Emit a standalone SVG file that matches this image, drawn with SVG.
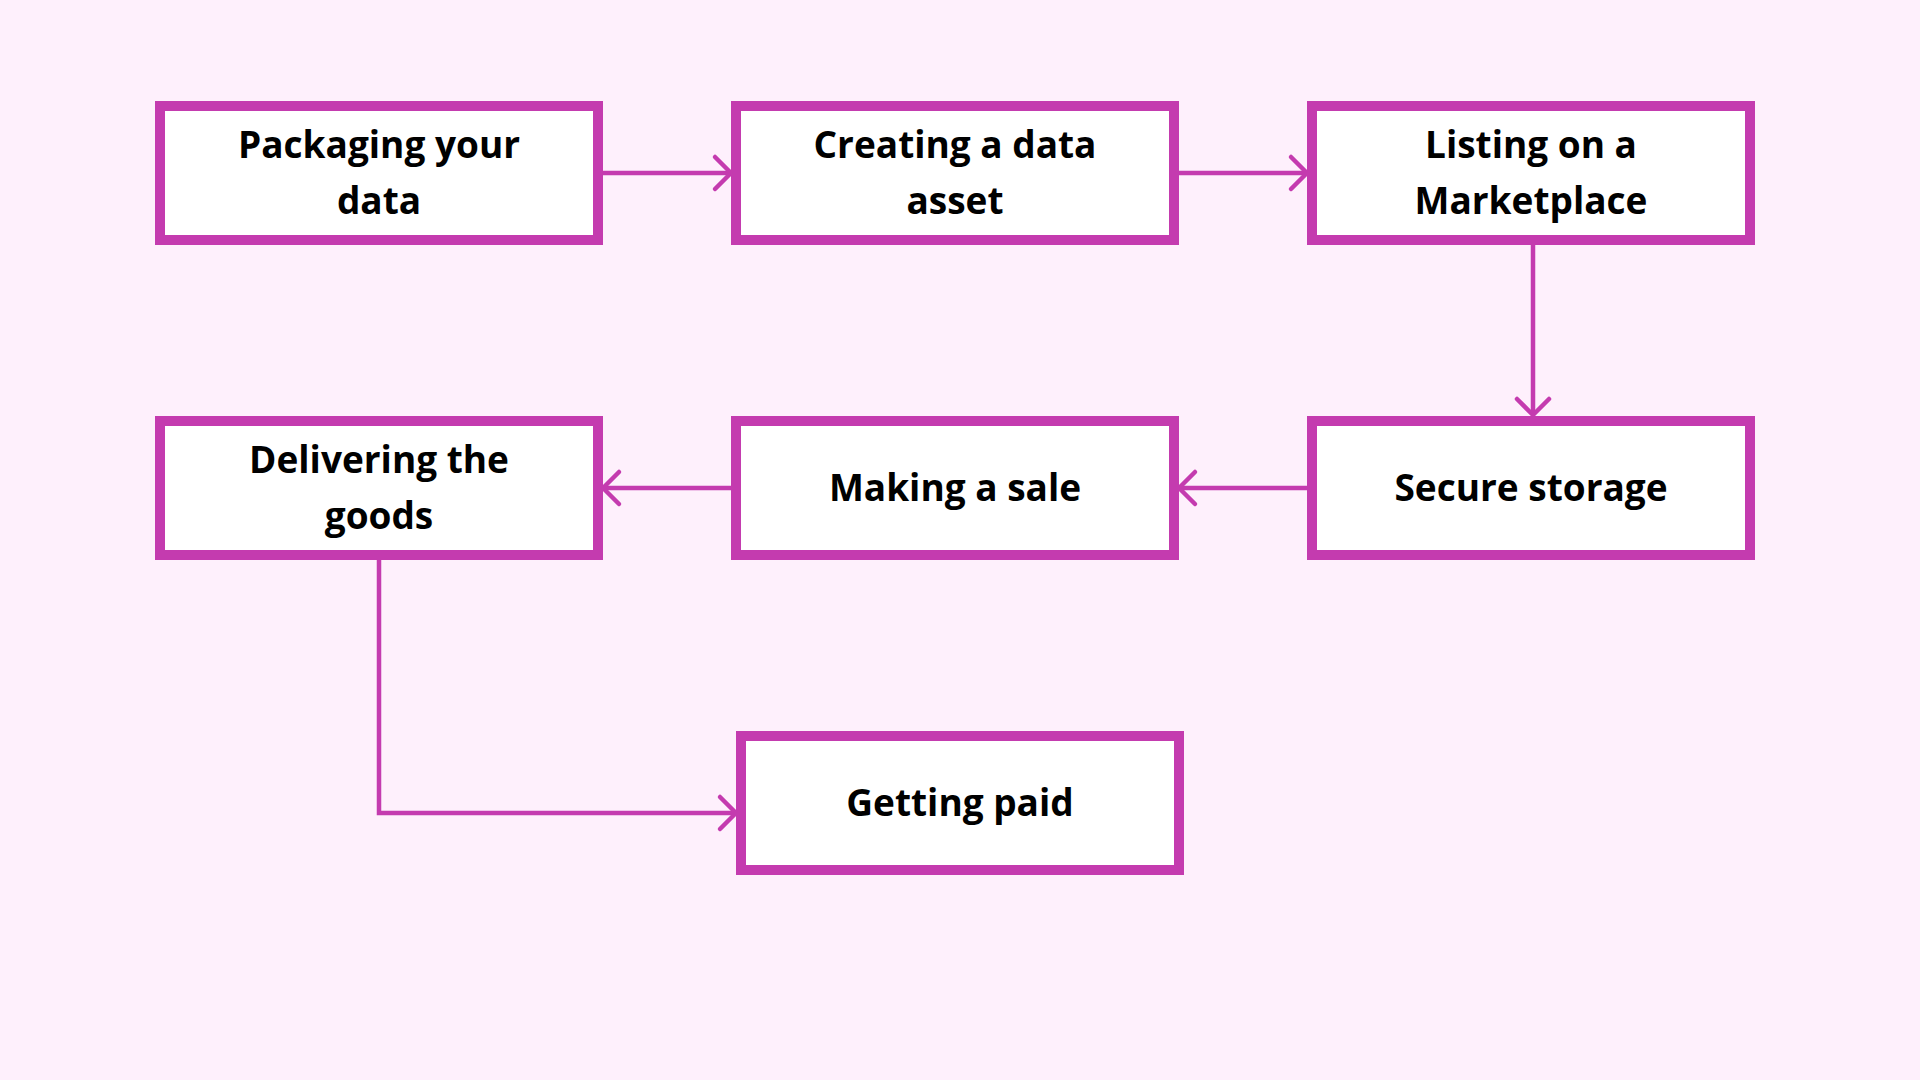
<svg xmlns="http://www.w3.org/2000/svg" width="1920" height="1080" viewBox="0 0 1920 1080">
<defs>
<style>
.box{fill:#ffffff;stroke:#c43baf;stroke-width:10}
.lbl{font-family:"Open Sans","Liberation Sans",sans-serif;font-weight:bold;font-size:37px;fill:#000;text-anchor:middle}
.con{fill:none;stroke:#c43baf;stroke-width:4.5;marker-end:url(#arr)}
</style>
<marker id="arr" markerUnits="userSpaceOnUse" markerWidth="40" markerHeight="40" viewBox="-20 -20 40 40" refX="0" refY="0" orient="auto" overflow="visible">
<path d="M-16,-16 L0,0 L-16,16" fill="none" stroke="#c43baf" stroke-width="4.5" stroke-linecap="round" stroke-linejoin="round"/>
</marker>
</defs>
<rect width="1920" height="1080" fill="#fef0fc"/>
<g id="connectors">
<path class="con" d="M603,173 H731"/>
<path class="con" d="M1179,173 H1307"/>
<path class="con" d="M1533,245 V415"/>
<path class="con" d="M1307,488 H1179"/>
<path class="con" d="M731,488 H603"/>
<path class="con" d="M379,560 V813 H736"/>
</g>
<g id="n1"><rect class="box" x="160" y="106" width="438" height="134"/><text class="lbl" x="379" y="158">Packaging your</text><text class="lbl" x="379" y="214">data</text></g>
<g id="n2"><rect class="box" x="736" y="106" width="438" height="134"/><text class="lbl" x="955" y="158">Creating a data</text><text class="lbl" x="955" y="214">asset</text></g>
<g id="n3"><rect class="box" x="1312" y="106" width="438" height="134"/><text class="lbl" x="1531" y="158">Listing on a</text><text class="lbl" x="1531" y="214">Marketplace</text></g>
<g id="n4"><rect class="box" x="1312" y="421" width="438" height="134"/><text class="lbl" x="1531" y="501">Secure storage</text></g>
<g id="n5"><rect class="box" x="736" y="421" width="438" height="134"/><text class="lbl" x="955" y="501">Making a sale</text></g>
<g id="n6"><rect class="box" x="160" y="421" width="438" height="134"/><text class="lbl" x="379" y="473">Delivering the</text><text class="lbl" x="379" y="529">goods</text></g>
<g id="n7"><rect class="box" x="741" y="736" width="438" height="134"/><text class="lbl" x="960" y="816">Getting paid</text></g>
</svg>
